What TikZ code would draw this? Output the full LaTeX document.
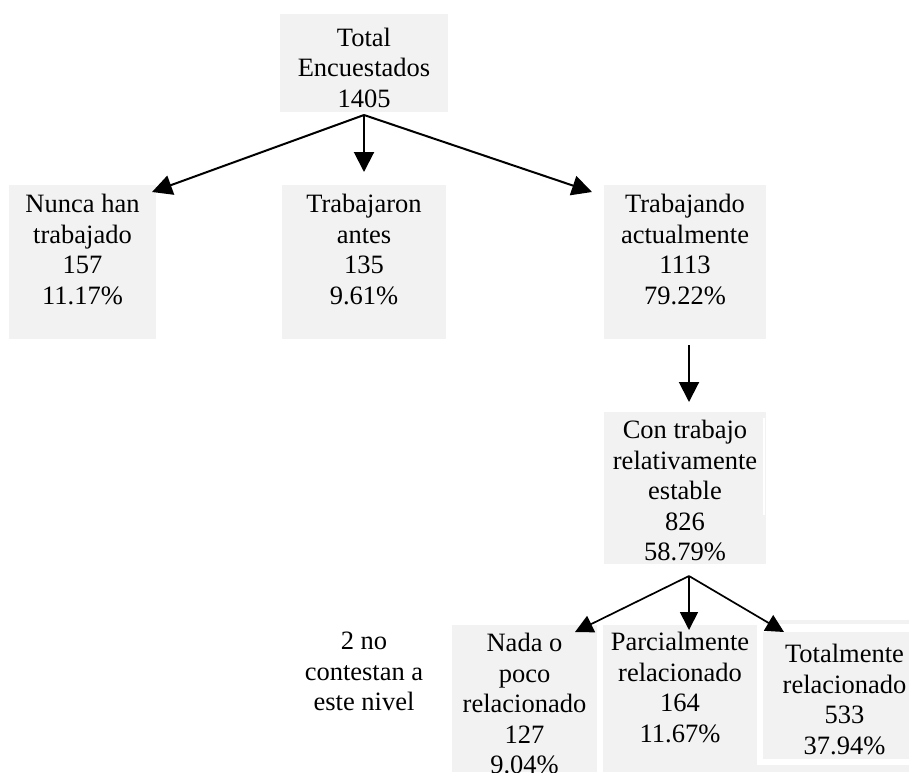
\documentclass[tikz,border=0pt]{standalone}
\usepackage{fontspec}
\setmainfont{Liberation Serif}
\usetikzlibrary{arrows.meta}
\definecolor{boxgray}{HTML}{F2F2F2}
\tikzset{
  box/.style={fill=boxgray, draw=none, inner sep=0pt, outer sep=0pt, anchor=north west},
  gap/.style={fill=white, draw=none, inner sep=0pt, outer sep=0pt, anchor=north west},
  txt/.style={align=center, inner sep=0pt, anchor=north, font=\fontsize{26.5}{30.5}\selectfont},
  conn/.style={line width=2pt, -{Triangle[length=20pt,width=20pt]}},
  connsm/.style={line width=1.7pt, -{Triangle[length=18pt,width=18pt]}},
}
\begin{document}
\begin{tikzpicture}[x=1pt,y=-1pt]
\useasboundingbox (0,0) rectangle (909,772);
% boxes
\node[box, minimum width=168pt, minimum height=98pt] (total) at (280,14) {};
\node[box, minimum width=147pt, minimum height=154pt] (nunca) at (9,185) {};
\node[box, minimum width=164pt, minimum height=154pt] (antes) at (282,185) {};
\node[box, minimum width=162pt, minimum height=154pt] (actual) at (604,185) {};
\node[box, minimum width=162pt, minimum height=152pt] (estable) at (604,412) {};
\node[box, minimum width=145pt, minimum height=147pt] (nada) at (452,625) {};
\node[box, minimum width=306pt, minimum height=147pt] (parcial) at (603,625) {};
\node[box, minimum width=146pt, minimum height=4pt] (strip) at (763,620) {};
\node[gap, minimum width=152pt, minimum height=141pt] (frame) at (757,624) {};
\node[box, minimum width=146pt, minimum height=127pt] (totalm) at (763,632) {};
\draw[white, line width=1.3pt] (estable.north east) ++(-2,6) coordinate (wl1) -- ++(0,97) coordinate (wl2);
% texts
\node[txt] (total-t) at (364,27.5) {Total\\Encuestados\\1405};
\node[txt] (nunca-t) at (82.5,194) {Nunca han\\trabajado\\157\\11.17\%};
\node[txt] (antes-t) at (364,194) {Trabajaron\\antes\\135\\9.61\%};
\node[txt] (actual-t) at (685,194) {Trabajando\\actualmente\\1113\\79.22\%};
\node[txt] (estable-t) at (685,420) {Con trabajo\\relativamente\\estable\\826\\58.79\%};
\node[txt] (nada-t) at (524.5,633) {Nada o\\poco\\relacionado\\127\\9.04\%};
\node[txt] (parcial-t) at (680,632) {Parcialmente\\relacionado\\164\\11.67\%};
\node[txt] (totalm-t) at (844.5,644) {Totalmente\\relacionado\\533\\37.94\%};
\node[txt] (nota) at (364,632) {2 no\\contestan a\\este nivel};
% connectors
\coordinate (total-out) at (364,115);
\coordinate (nunca-in) at (152,192);
\coordinate (antes-in) at (364,172);
\coordinate (actual-in) at (592,192);
\coordinate (actual-out) at (689,345);
\coordinate (estable-in) at (689,402);
\coordinate (estable-out) at (689,576);
\coordinate (nada-in) at (575,632);
\coordinate (parcial-in) at (689,630);
\coordinate (totalm-in) at (784,632);
\draw[conn] (total-out) -- (nunca-in);
\draw[conn] (total-out) -- (antes-in);
\draw[conn] (total-out) -- (actual-in);
\draw[conn] (actual-out) -- (estable-in);
\draw[connsm] (estable-out) -- (nada-in);
\draw[connsm] (estable-out) -- (parcial-in);
\draw[connsm] (estable-out) -- (totalm-in);
\end{tikzpicture}
\end{document}
